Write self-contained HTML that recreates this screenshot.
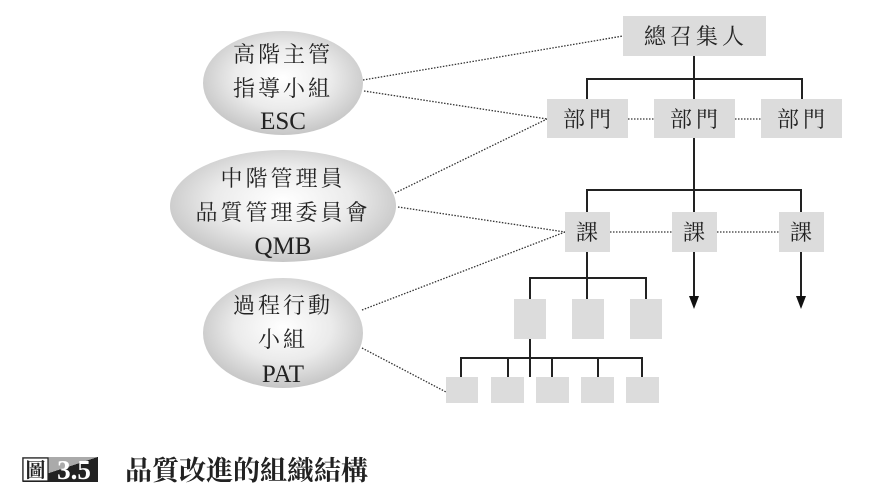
<!DOCTYPE html>
<html><head><meta charset="utf-8"><style>
body{margin:0;background:#fff;}
svg{display:block}
.t{font-family:"Liberation Serif","Noto Serif CJK SC",serif;fill:#222;}
</style></head><body>
<svg width="870" height="504" viewBox="0 0 870 504" xmlns="http://www.w3.org/2000/svg">
<defs>
<radialGradient id="g" cx="50%" cy="45%" r="55%">
<stop offset="0" stop-color="#ffffff"/><stop offset="0.55" stop-color="#ebebeb"/><stop offset="1" stop-color="#c6c6c6"/>
</radialGradient>
<linearGradient id="cap" x1="0" y1="0" x2="1" y2="1">
<stop offset="0.5" stop-color="#aaa"/><stop offset="0.5" stop-color="#222"/>
</linearGradient>
</defs>
<ellipse cx="283" cy="83" rx="80" ry="52" fill="url(#g)"/>
<ellipse cx="283" cy="206" rx="113" ry="56" fill="url(#g)"/>
<ellipse cx="283" cy="333" rx="80" ry="55" fill="url(#g)"/>
<g class="t" font-size="22" text-anchor="middle">
<text x="283" y="62" letter-spacing="3">高階主管</text>
<text x="283" y="96" letter-spacing="3">指導小組</text>
<text x="283" y="129" font-size="25">ESC</text>
<text x="283" y="186" letter-spacing="3">中階管理員</text>
<text x="283" y="220" letter-spacing="3">品質管理委員會</text>
<text x="283" y="254" font-size="25">QMB</text>
<text x="283" y="313" letter-spacing="3">過程行動</text>
<text x="283" y="347" letter-spacing="3">小組</text>
<text x="283" y="382" font-size="25">PAT</text>
</g>
<g stroke="#333" stroke-width="1.3" stroke-dasharray="1.5 1.5" fill="none">
<line x1="363" y1="80" x2="623" y2="36"/>
<line x1="364" y1="91" x2="547" y2="119"/>
<line x1="395" y1="193" x2="547" y2="119"/>
<line x1="398" y1="207" x2="565" y2="232"/>
<line x1="362" y1="310" x2="565" y2="232"/>
<line x1="362" y1="348" x2="446" y2="392"/>
<line x1="628" y1="119" x2="654" y2="119"/>
<line x1="735" y1="119" x2="761" y2="119"/>
<line x1="610" y1="232" x2="672" y2="232"/>
<line x1="717" y1="232" x2="779" y2="232"/>
</g>
<g fill="#dcdcdc">
<rect x="623" y="16" width="143" height="40"/>
<rect x="547" y="99" width="81" height="39"/>
<rect x="654" y="99" width="81" height="39"/>
<rect x="761" y="99" width="81" height="39"/>
<rect x="565" y="212" width="45" height="40"/>
<rect x="672" y="212" width="45" height="40"/>
<rect x="779" y="212" width="45" height="40"/>
<rect x="514" y="299" width="32" height="40"/>
<rect x="572" y="299" width="32" height="40"/>
<rect x="630" y="299" width="32" height="40"/>
<rect x="446" y="377" width="32" height="26"/>
<rect x="491" y="377" width="33" height="26"/>
<rect x="536" y="377" width="33" height="26"/>
<rect x="581" y="377" width="33" height="26"/>
<rect x="626" y="377" width="33" height="26"/>
</g>
<g stroke="#222" stroke-width="2" fill="none">
<path d="M694 56V79M587 99V79H802V99M694 79V99"/>
<path d="M694 138V212M587 212V190H801V212"/>
<path d="M694 252V300M801 252V300"/>
<path d="M587 252V299M530 299V278H646V299"/>
<path d="M530 339V377M461 377V358H642V377M508 358V377M552 358V377M598 358V377"/>
</g>
<g fill="#111">
<polygon points="689,296 699,296 694,309"/>
<polygon points="796,296 806,296 801,309"/>
</g>
<g class="t" font-size="22" text-anchor="middle" letter-spacing="4">
<text x="696" y="44">總召集人</text>
<text x="589" y="127">部門</text>
<text x="696" y="127">部門</text>
<text x="803" y="127">部門</text>
<text x="587" y="240" letter-spacing="0">課</text>
<text x="694" y="240" letter-spacing="0">課</text>
<text x="801" y="240" letter-spacing="0">課</text>
</g>
<rect x="22" y="457" width="76" height="25" fill="url(#cap)"/>
<rect x="23" y="458" width="25" height="23" fill="#fff" stroke="#222" stroke-width="1.2"/>
<text x="35.5" y="477" class="t" font-size="20" text-anchor="middle" font-weight="bold">圖</text>
<text x="74" y="479" font-family="Liberation Serif,serif" font-size="27" font-weight="bold" fill="#fff" text-anchor="middle">3.5</text>
<text x="125" y="480" class="t" font-size="27" font-weight="bold" fill="#111">品質改進的組織結構</text>
</svg>
</body></html>
